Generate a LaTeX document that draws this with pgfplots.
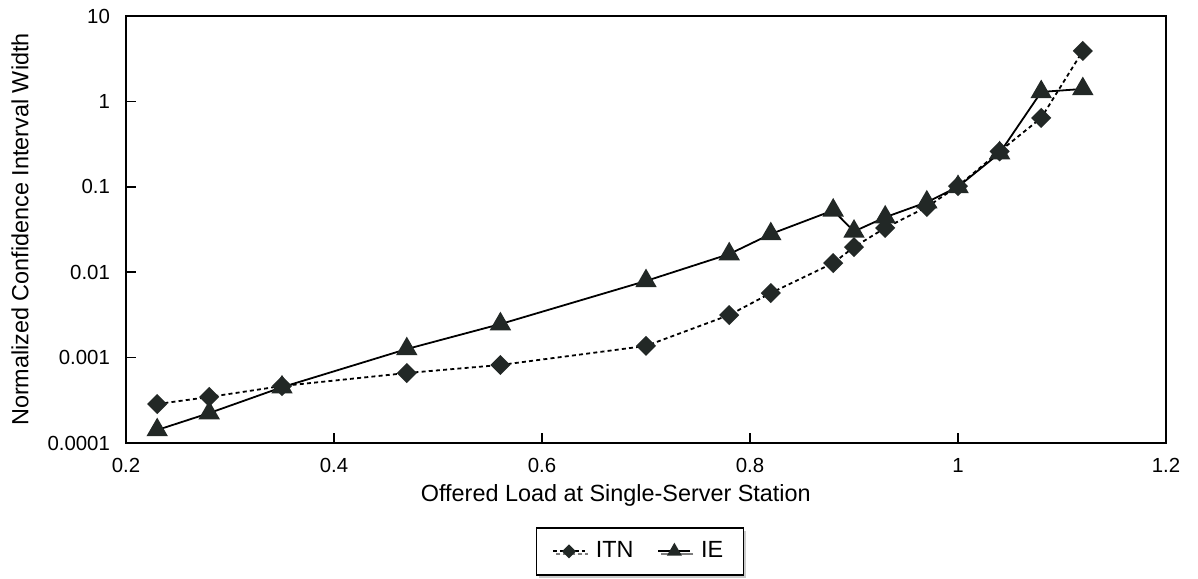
\documentclass[border=0pt]{standalone}
\usepackage{fontspec}
\setmainfont{Liberation Sans}
\usepackage{pgfplots}
\pgfplotsset{compat=1.18}
\usetikzlibrary{shadows}
\definecolor{markc}{HTML}{222826}
\begin{document}
\begin{tikzpicture}
\begin{axis}[
  scale only axis, width=520pt, height=213.5pt,
  xmin=0.2, xmax=1.2, ymode=log, ymin=1e-4, ymax=10,
  xtick={0.2,0.4,0.6,0.8,1,1.2},
  xticklabels={0.2,0.4,0.6,0.8,1,1.2},
  ytick={1e-4,1e-3,1e-2,1e-1,1,10},
  yticklabels={0.0001,0.001,0.01,0.1,1,10},
  yminorticks=false,
  tick align=inside, tick pos=left,
  major tick length=5pt,
  axis line style={line width=0.8pt},
  every tick/.style={black, line width=0.8pt},
  tick label style={font=\fontsize{10.2}{12}\selectfont},
  xticklabel style={yshift=-4pt},
  yticklabel style={xshift=-4.5pt},
  label style={font=\fontsize{11.7}{14}\selectfont},
  xlabel={Offered Load at Single-Server Station},
  ylabel={Normalized Confidence Interval Width},
  xlabel style={at={(axis description cs:0.471,-0.122)}, anchor=center},
  ylabel style={at={(axis description cs:-0.102,0.5)}, anchor=center},
  legend columns=2,
  legend image code/.code={%
    \draw[mark repeat=2,mark phase=2,#1]
      plot coordinates {(0cm,0cm) (0.28cm,0cm) (0.56cm,0cm)};},
  legend image post style={every mark/.append style={scale=0.65}},
  legend style={at={(axis description cs:0.494,-0.197)}, anchor=north,
    draw=black, line width=0.7pt, fill=white,
    font=\fontsize{11.7}{14}\selectfont,
    drop shadow={shadow xshift=1.5pt, shadow yshift=-1.5pt, fill=gray!80},
    inner xsep=8pt, inner ysep=5pt,
    /tikz/every odd column/.append style={column sep=3pt},
    /tikz/every even column/.append style={column sep=10pt}},
]
\addplot[black, line width=0.9pt, dash pattern=on 2pt off 1.6pt,
  mark=square*, mark size=3.1pt,
  mark options={solid, rotate=45, fill=markc, draw=markc}]
  coordinates {
  (0.23,2.86e-4) (0.28,3.46e-4) (0.35,4.65e-4) (0.47,6.6e-4) (0.56,8.2e-4)
  (0.70,1.37e-3) (0.78,3.15e-3) (0.82,5.7e-3) (0.88,1.28e-2) (0.90,1.97e-2)
  (0.93,3.3e-2) (0.97,5.8e-2) (1.00,0.102) (1.04,0.26) (1.08,0.64) (1.12,3.9)
  };
\addlegendentry{ITN}
\addplot[black, line width=0.9pt,
  mark=triangle*, mark size=5.3pt,
  mark options={solid, fill=markc, draw=markc}]
  coordinates {
  (0.23,1.42e-4) (0.28,2.24e-4) (0.35,4.5e-4) (0.47,1.26e-3) (0.56,2.47e-3)
  (0.70,7.9e-3) (0.78,1.63e-2) (0.82,2.8e-2) (0.88,5.3e-2) (0.90,3.0e-2)
  (0.93,4.4e-2) (0.97,6.6e-2) (1.00,0.10) (1.04,0.248) (1.08,1.29) (1.12,1.40)
  };
\addlegendentry{IE}
\end{axis}
\path ([shift={(-63pt,-67.5pt)}]current axis.south west) rectangle ([shift={(16pt,8pt)}]current axis.north east);
\end{tikzpicture}
\end{document}
